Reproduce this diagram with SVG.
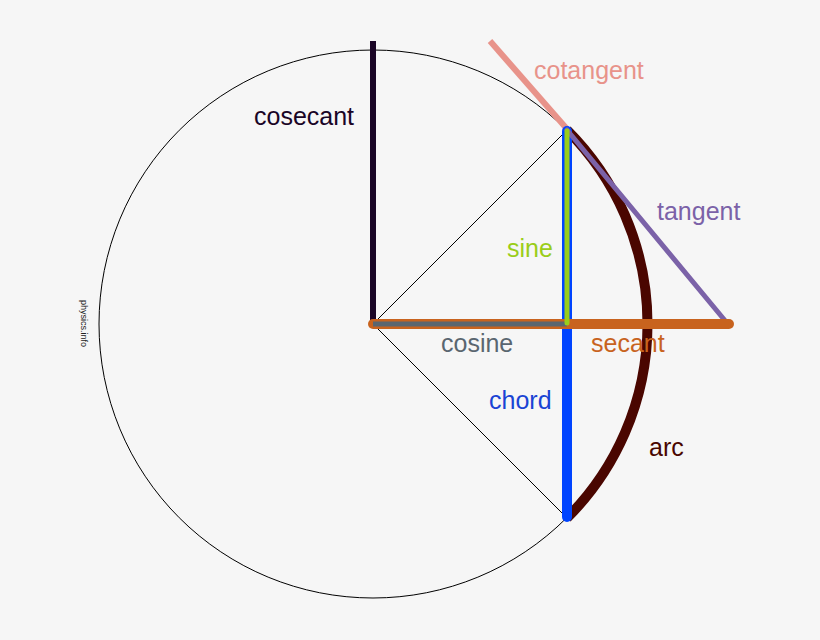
<svg xmlns="http://www.w3.org/2000/svg" width="820" height="640" viewBox="0 0 820 640">
<style>
text{font-family:"Liberation Sans",Arial,sans-serif;font-size:25px}
.thin{fill:none;stroke:#000;stroke-width:1}
</style>
<rect width="820" height="640" fill="#f6f6f6"/>
<g id="circle"><circle class="thin" cx="373" cy="324" r="274"/></g>
<g id="connectors">
<line class="thin" x1="373" y1="324" x2="567" y2="130"/>
<line class="thin" x1="373" y1="324" x2="567" y2="518"/>
</g>
<g id="cosecant"><line x1="373" y1="41" x2="373" y2="324" stroke="#1a0526" stroke-width="6"/><text x="254" y="125" fill="#1a0526">cosecant</text></g>
<g id="cotangent"><line x1="490" y1="41" x2="567" y2="129" stroke="#e8938a" stroke-width="6"/><text x="534" y="79" fill="#e8938a">cotangent</text></g>
<g id="arc"><path d="M567,130 A274,274 0 0 1 567,518" fill="none" stroke="#4a0600" stroke-width="10"/><text x="649" y="456" fill="#4a0600">arc</text></g>
<g id="chord"><line x1="567" y1="131" x2="567" y2="517" stroke="#0044ff" stroke-width="10" stroke-linecap="round"/><text x="489" y="409" fill="#1a44d4">chord</text></g>
<g id="tangent"><line x1="567" y1="130" x2="727" y2="323" stroke="#7b62a8" stroke-width="5" stroke-linecap="round"/><text x="657" y="220" fill="#7b62a8">tangent</text></g>
<g id="secant"><line x1="373" y1="324" x2="729" y2="324" stroke="#c8631e" stroke-width="10" stroke-linecap="round"/><text x="591" y="352" fill="#c8631e">secant</text></g>
<g id="cosine"><line x1="373" y1="324" x2="567" y2="324" stroke="#5a6670" stroke-width="5"/><text x="441" y="352" fill="#5a6670">cosine</text></g>
<g id="sine"><line x1="567" y1="131" x2="567" y2="323" stroke="#9acd1a" stroke-width="5" stroke-linecap="round"/><text x="507" y="257" fill="#9acd1a">sine</text></g>
<g id="credit"><text transform="translate(81,300) rotate(90)" style="font-size:9px" fill="#222">physics.info</text></g>
</svg>
